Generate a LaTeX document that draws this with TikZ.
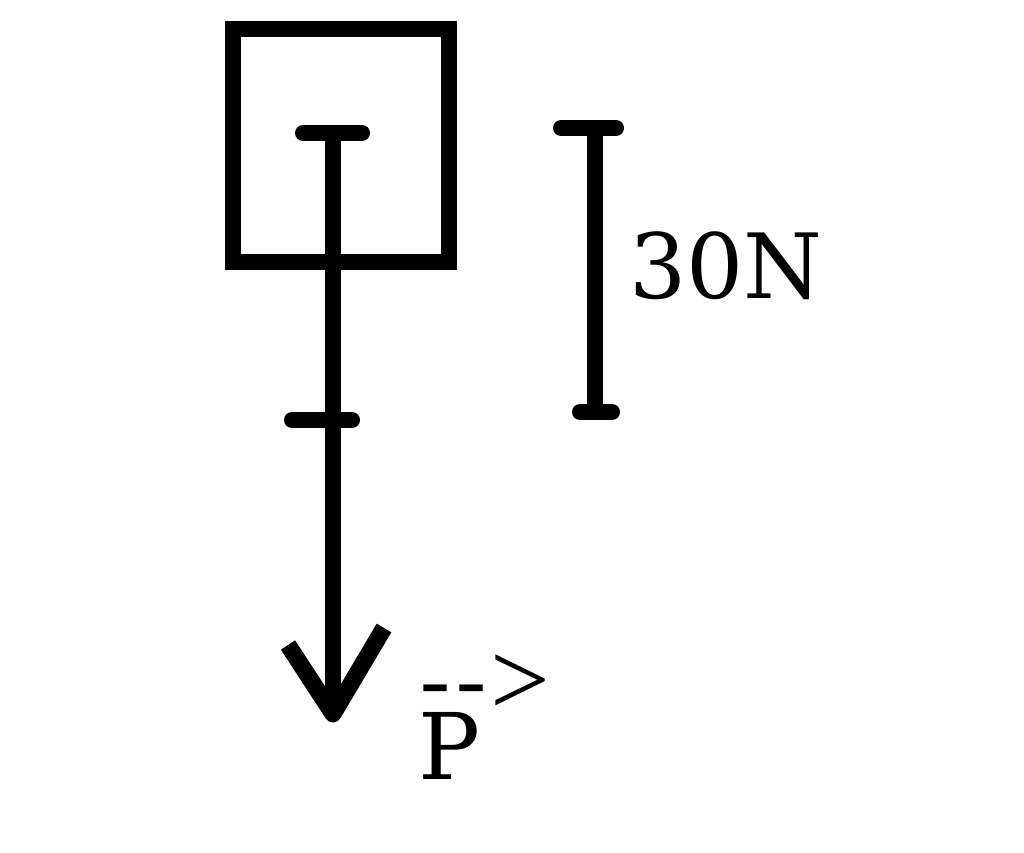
\documentclass[tikz,border=0pt]{standalone}
\usepackage{fontspec}
\setmainfont{DejaVu Serif}
\newfontfamily\thinserif{Liberation Serif}
\begin{document}
\begin{tikzpicture}[x=1pt,y=-1pt,
  thick line/.style={line width=16pt},
  tickmark/.style={line width=16pt,line cap=round},
  lbl/.style={inner sep=0pt,anchor=base west}]
\useasboundingbox[fill=white] (0,0) rectangle (1024,852);
% box
\draw[thick line,line join=miter] (233,29) rectangle (449,262);
% force vector
\coordinate (top) at (333,133);
\coordinate (mid) at (333,420);
\coordinate (tip) at (333,714);
\draw[thick line] (top) -- (tip);
\draw[tickmark] (303,133) -- (362,133);
\draw[tickmark] (292,420) -- (352,420);
\draw[line width=17pt,line join=round,line cap=butt] (288,645) -- (tip) -- (384,628);
% scale bar
\coordinate (sa) at (595,128);
\coordinate (sb) at (595,412);
\draw[thick line] (sa) -- (sb);
\draw[tickmark] (561,128) -- (616,128);
\draw[tickmark] (580,412) -- (612,412);
\node[lbl,font=\fontsize{90}{90}\selectfont] (lab) at (629,298) {30N};
% P label
\node[lbl,font=\fontsize{92}{92}\selectfont] (P) at (418,779) {P};
\node[lbl,font=\thinserif\fontsize{90}{90}\selectfont] (dash) at (420,709) {-\kern6pt-};
\node[lbl,font=\thinserif\fontsize{106}{106}\selectfont] (gt) at (490,715) {>};
\end{tikzpicture}
\end{document}
